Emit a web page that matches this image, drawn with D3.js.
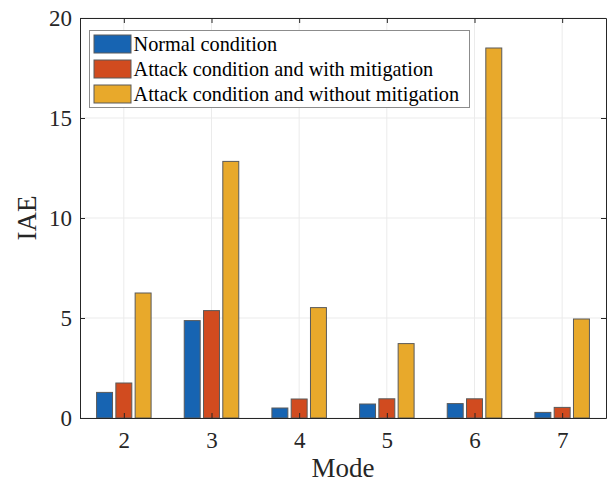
<!DOCTYPE html>
<html>
<head>
<meta charset="utf-8">
<script src="https://cdn.jsdelivr.net/npm/d3@7"></script>
<style>
  body { margin: 0; background: #fff; }
  svg text { font-family: "Liberation Serif", "Times New Roman", "DejaVu Serif", serif; }
</style>
</head>
<body>
<script>
// Data
const modes = ["2", "3", "4", "5", "6", "7"];
const seriesNames = ["Normal condition", "Attack condition and with mitigation", "Attack condition and without mitigation"];
const normal = [1.28, 4.87, 0.50, 0.70, 0.72, 0.28];
const withMitigation = [1.75, 5.37, 0.95, 0.96, 0.96, 0.53];
const withoutMitigation = [6.25, 12.83, 5.52, 3.72, 18.5, 4.95];
const yTicks = [0, 5, 10, 15, 20];
const colors = ["#1764b2", "#d14b1f", "#e8a92b"];

const series = [normal, withMitigation, withoutMitigation];
const serif = '"Liberation Serif", "Times New Roman", serif';

let width = 608, height = 482;
let margin = { top: 18, bottom: 64, left: 80, right: 2 };

let svg = d3.select('body')
            .append('svg')
            .attr('width', width)
            .attr('height', height)
            .attr('font-family', serif);

// x as linear scale over mode number like matlab (xlim 1.5..7.5)
const xScale = d3.scaleLinear()
    .domain([1.5, 7.5])
    .range([margin.left, width - margin.right]);

const yScale = d3.scaleLinear()
    .domain([0, 20])
    .range([height - margin.bottom, margin.top]);

const unit = xScale(1) - xScale(0);
const barW = 0.182 * unit;
const barStep = 0.22 * unit;

// grid
svg.append("g")
   .selectAll("line.gx")
   .data(modes)
   .enter().append("line")
   .attr("x1", d => xScale(+d)).attr("x2", d => xScale(+d))
   .attr("y1", yScale(0)).attr("y2", yScale(20))
   .attr("stroke", "#ebebeb").attr("stroke-width", 1);

svg.append("g")
   .selectAll("line.gy")
   .data(yTicks)
   .enter().append("line")
   .attr("x1", xScale(1.5)).attr("x2", xScale(7.5))
   .attr("y1", d => yScale(d)).attr("y2", d => yScale(d))
   .attr("stroke", "#ebebeb").attr("stroke-width", 1);

// bars
series.forEach((vals, s) => {
    svg.append("g")
       .selectAll("rect")
       .data(vals)
       .enter().append("rect")
       .attr("x", (d, i) => xScale(+modes[i]) + (s - 1) * barStep - barW / 2)
       .attr("y", d => yScale(d))
       .attr("width", barW)
       .attr("height", d => yScale(0) - yScale(d))
       .attr("fill", colors[s])
       .attr("stroke", "#5a5a5a")
       .attr("stroke-width", 1);
});

// axes
const axisColor = "#262626";
const xAxis = svg.append("g")
   .attr("transform", `translate(0,${yScale(0)})`)
   .call(d3.axisBottom(xScale).tickValues(modes.map(Number)).tickFormat(d3.format("d")).tickSizeInner(-5).tickSizeOuter(0).tickPadding(14));
const yAxis = svg.append("g")
   .attr("transform", `translate(${xScale(1.5)},0)`)
   .call(d3.axisLeft(yScale).tickValues(yTicks).tickSizeInner(-5).tickSizeOuter(0).tickPadding(8));
const xTop = svg.append("g")
   .attr("transform", `translate(0,${yScale(20)})`)
   .call(d3.axisTop(xScale).tickValues(modes.map(Number)).tickSizeInner(-5).tickSizeOuter(0).tickFormat(""));
const yRight = svg.append("g")
   .attr("transform", `translate(${xScale(7.5)},0)`)
   .call(d3.axisRight(yScale).tickValues(yTicks).tickSizeInner(-5).tickSizeOuter(0).tickFormat(""));

[xAxis, yAxis, xTop, yRight].forEach(g => {
    g.attr("font-family", serif).attr("font-size", 23);
    g.selectAll("path").attr("stroke", axisColor);
    g.selectAll("line").attr("stroke", axisColor);
    g.selectAll("text").attr("fill", axisColor);
});

// labels
svg.append('text')
   .attr('x', (xScale(1.5) + xScale(7.5)) / 2)
   .attr('y', 477)
   .attr('text-anchor', 'middle')
   .attr('fill', axisColor)
   .attr('font-size', 27)
   .text('Mode');

svg.append('text')
   .attr('transform', `translate(36,${(yScale(0) + yScale(20)) / 2}) rotate(-90)`)
   .attr('text-anchor', 'middle')
   .attr('fill', axisColor)
   .attr('font-size', 27)
   .text('IAE');

// legend
const legend = svg.append("g")
   .attr("transform", "translate(89.5,30.5)");

legend.append("rect")
   .attr("width", 380)
   .attr("height", 77)
   .attr("fill", "#fff")
   .attr("stroke", "#8c8c8c");

seriesNames.forEach((name, i) => {
    legend.append("rect")
          .attr("x", 4.5)
          .attr("y", 4.5 + i * 25)
          .attr("width", 37)
          .attr("height", 18)
          .attr("fill", colors[i])
          .attr("stroke", "#5a5a5a");
    legend.append("text")
          .attr("x", 44)
          .attr("y", 20.5 + i * 25)
          .attr("fill", "#000")
          .attr("font-size", 20.3)
          .text(name);
});
</script>
</body>
</html>
